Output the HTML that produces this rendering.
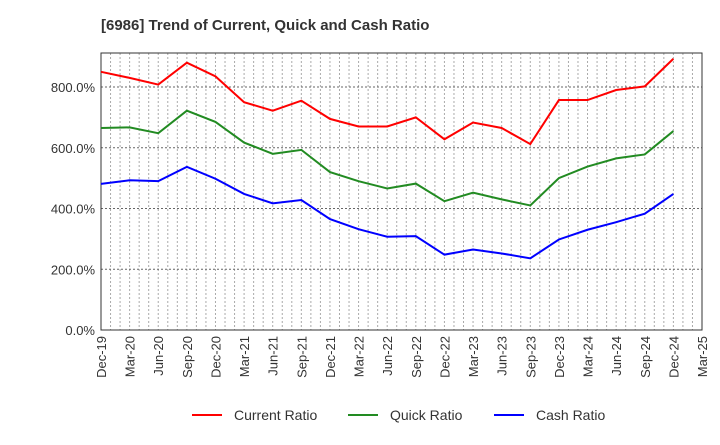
<!DOCTYPE html>
<html><head><meta charset="utf-8"><style>body{margin:0;background:#fff;font-family:"Liberation Sans",sans-serif}</style></head>
<body>
<svg width="720" height="440" xmlns="http://www.w3.org/2000/svg">
<text x="101" y="30" font-size="15" font-weight="bold" fill="#333">[6986]  Trend of Current, Quick and Cash Ratio</text>
<g id="grid"></g><g id="axes"></g><g id="lines"></g>
<g font-size="14" fill="#333">
<line x1="192" y1="415" x2="222" y2="415" stroke="#f00" stroke-width="2"/><text x="234" y="420">Current Ratio</text>
<line x1="348" y1="415" x2="378" y2="415" stroke="#228b22" stroke-width="2"/><text x="390" y="420">Quick Ratio</text>
<line x1="494" y1="415" x2="524" y2="415" stroke="#00f" stroke-width="2"/><text x="536" y="420">Cash Ratio</text>
</g>
</svg>
<script>
const xLabels=["Dec-19","Mar-20","Jun-20","Sep-20","Dec-20","Mar-21","Jun-21","Sep-21","Dec-21","Mar-22","Jun-22","Sep-22","Dec-22","Mar-23","Jun-23","Sep-23","Dec-23","Mar-24","Jun-24","Sep-24","Dec-24","Mar-25"];
const yTicks=[0,200,400,600,800];
const current=[850,830,808,880,835,750,722,755,695,670,670,700,628,683,665,612,757,757,790,802,893];
const quick=[665,667,648,722,685,617,580,593,520,490,466,482,424,452,430,410,500,538,565,578,655];
const cash=[481,493,490,537,498,448,417,428,365,332,307,309,248,265,252,236,298,330,355,383,448];
const L=101,R=702,T=53,B=330;
const ns="http://www.w3.org/2000/svg";
const xs=i=>L+(R-L)*i/(xLabels.length-1);
const ys=v=>B-v*(B-87)/800;
function mk(t,a,p){const e=document.createElementNS(ns,t);for(const k in a)e.setAttribute(k,a[k]);p.appendChild(e);return e;}
const g=document.getElementById('grid'),ax=document.getElementById('axes'),ln=document.getElementById('lines');
for(let m=1;m<(xLabels.length-1)*3;m++){const x=L+(R-L)*m/((xLabels.length-1)*3);const e=mk('line',{x1:x,x2:x,y1:T,y2:B,stroke:'#aaa','stroke-dasharray':'2,2','stroke-width':1},g);}
yTicks.forEach(v=>{const y=ys(v);if(v>0){const e=mk('line',{x1:L,x2:R,y1:y,y2:y,stroke:'#666','stroke-dasharray':'2,2'},g);}
const t=mk('text',{x:L-6,y:y+5,'text-anchor':'end','font-size':13,fill:'#333'},ax);t.textContent=v.toFixed(1)+'%';});
const fr=mk('rect',{x:L,y:T,width:R-L,height:B-T,fill:'none',stroke:'#333'},ax);
xLabels.forEach((s,i)=>{const x=xs(i);const t=mk('text',{x:x+5,y:B+6,'text-anchor':'end','font-size':13,fill:'#333',transform:`rotate(-90 ${x+5} ${B+6})`},ax);t.textContent=s;});
[[current,'#f00','current-ratio-line'],[quick,'#228b22','quick-ratio-line'],[cash,'#00f','cash-ratio-line']].forEach(([d,c,n])=>{const p=mk('polyline',{points:d.map((v,i)=>xs(i)+','+ys(v)).join(' '),fill:'none',stroke:c,'stroke-width':2},ln);});
</script>
</body></html>
